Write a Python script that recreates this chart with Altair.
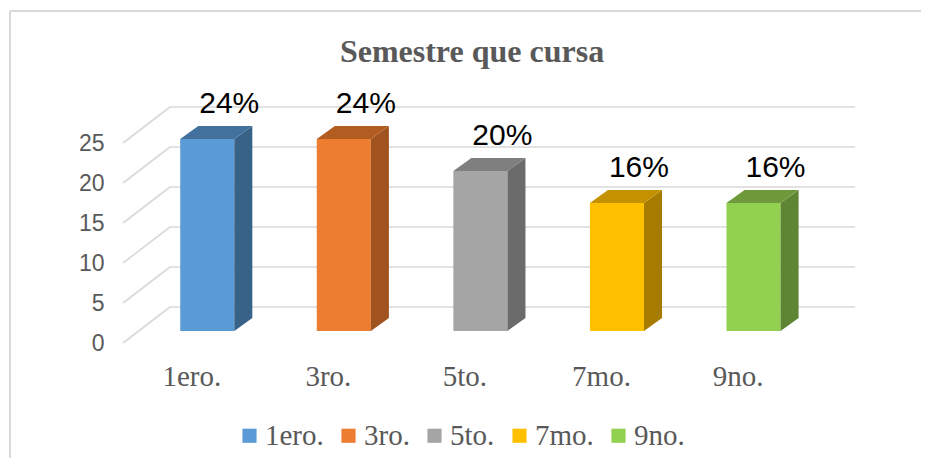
import json
import altair as alt
import pandas as pd

# ---------------- data ----------------
CATS = ["1ero.", "3ro.", "5to.", "7mo.", "9no."]
VALUES = [24, 24, 20, 16, 16]
LABELS = ["24%", "24%", "20%", "16%", "16%"]
TICKS = [0, 5, 10, 15, 20, 25]
TITLE = "Semestre que cursa"

# ---------------- style ----------------
FRONT = ["#5B9BD5", "#ED7D31", "#A5A5A5", "#FFC000", "#92D050"]
TOP = ["#41719C", "#B35C22", "#7F7F7F", "#C49200", "#6E9A3C"]
SIDE = ["#386288", "#A0521F", "#6B6B6B", "#A67C00", "#5E8532"]
GRID = "#D9D9D9"
TXT = "#595959"

# 3-D geometry, in axis units
BAR_SHIFT_X = 0.117
BAR_HALF = 0.198
BAR_LIFT = 1.5
DEPTH_X = 0.132
DEPTH_Y = 1.625
WALL_X = 0.344
WALL_Y = 4.5
X_MIN, X_MAX = -0.5, 4.86
Y_MAX = 29.5
LABEL_SHIFT_X = 0.161

# ---------------- tables ----------------
front_rows, side_rows, top_rows, lab_rows = [], [], [], []
for i, (c, v, lab) in enumerate(zip(CATS, VALUES, LABELS)):
    xl = i + BAR_SHIFT_X - BAR_HALF
    xr = i + BAR_SHIFT_X + BAR_HALF
    front_rows.append(dict(cat=c, xl=xl, xr=xr, y0=BAR_LIFT, y1=v + BAR_LIFT))
    side_rows.append(dict(cat=c, col=SIDE[i], x=xr, lo=BAR_LIFT, hi=v + BAR_LIFT))
    side_rows.append(dict(cat=c, col=SIDE[i], x=xr + DEPTH_X,
                          lo=BAR_LIFT + DEPTH_Y, hi=v + BAR_LIFT + DEPTH_Y))
    top_rows.append(dict(cat=c, col=TOP[i], y=v + BAR_LIFT, xa=xl, xb=xr))
    top_rows.append(dict(cat=c, col=TOP[i], y=v + BAR_LIFT + DEPTH_Y,
                         xa=xl + DEPTH_X, xb=xr + DEPTH_X))
    lab_rows.append(dict(cat=c, lab=lab, x=i + BAR_SHIFT_X + LABEL_SHIFT_X,
                         y=v + BAR_LIFT + DEPTH_Y))

grid_rows = []
for t in TICKS:
    grid_rows.append(dict(x=X_MIN + WALL_X, x2=X_MAX, y=t + WALL_Y, y2=t + WALL_Y))
    grid_rows.append(dict(x=X_MIN, x2=X_MIN + WALL_X, y=t, y2=t + WALL_Y))

front_df = pd.DataFrame(front_rows)
side_df = pd.DataFrame(side_rows)
top_df = pd.DataFrame(top_rows)
lab_df = pd.DataFrame(lab_rows)
grid_df = pd.DataFrame(grid_rows)

xs = alt.Scale(domain=[X_MIN, X_MAX], nice=False, zero=False)
ys = alt.Scale(domain=[0, Y_MAX], nice=False, zero=False)

X_AXIS = alt.Axis(values=list(range(len(CATS))),
                  labelExpr=f"{json.dumps(CATS)}[datum.value]",
                  grid=False, domain=False, ticks=False, tickSize=0,
                  labelFont="Liberation Serif", labelFontSize=29,
                  labelColor=TXT, labelPadding=19, title=None)
Y_AXIS = alt.Axis(values=TICKS, grid=False, domain=False, ticks=False,
                  tickSize=0, labelFont="Liberation Sans", labelFontSize=23,
                  labelColor=TXT, labelPadding=19, title=None)


def X(f):
    return alt.X(f, type="quantitative", scale=xs, axis=X_AXIS)


def Y(f):
    return alt.Y(f, type="quantitative", scale=ys, axis=Y_AXIS)


grid = alt.Chart(grid_df).mark_rule(color=GRID, strokeWidth=1.6).encode(
    x=X("x"), x2="x2", y=Y("y"), y2="y2")

front = alt.Chart(front_df).mark_rect().encode(
    x=X("xl"), x2="xr", y=Y("y0"), y2="y1",
    color=alt.Color("cat:N", scale=alt.Scale(domain=CATS, range=FRONT),
                    legend=alt.Legend(orient="none", legendX=112, legendY=314,
                                      direction="horizontal", title=None,
                                      symbolType="square", symbolSize=200,
                                      symbolStrokeWidth=0,
                                      labelFont="Liberation Serif",
                                      labelFontSize=29, labelColor=TXT,
                                      labelOffset=1, columnPadding=10,
                                      labelLimit=300)))

side = alt.Chart(side_df).mark_area(orient="vertical").encode(
    x=X("x"), y=Y("hi"), y2="lo", detail="cat:N",
    color=alt.Color("col:N", scale=None))

top = alt.Chart(top_df).mark_area(orient="horizontal").encode(
    y=Y("y"), x=X("xa"), x2="xb", detail="cat:N",
    color=alt.Color("col:N", scale=None))

labels = alt.Chart(lab_df).mark_text(font="Liberation Sans", fontSize=30,
                                      color="black", baseline="middle",
                                      yOffset=-22).encode(
    x=X("x"), y=Y("y"), text="lab:N")

frame = alt.Chart(pd.DataFrame({"k": [0]})).mark_rule(
    color=GRID, strokeWidth=2).encode(
    x=alt.value(-113), x2=alt.value(800), y=alt.value(-96), y2=alt.value(-96))
frame2 = alt.Chart(pd.DataFrame({"k": [0]})).mark_rule(
    color=GRID, strokeWidth=2).encode(
    x=alt.value(-113), x2=alt.value(-113), y=alt.value(-96), y2=alt.value(400))

chart = alt.layer(frame, frame2, grid, front, side, top, labels).resolve_scale(
    color="independent"
).properties(
    width=732, height=236,
    background="white",
    autosize=alt.AutoSizeParams(type="none"),
    padding={"left": 115, "top": 99, "right": 66, "bottom": 115},
    title=alt.TitleParams(TITLE, font="Liberation Serif", fontSize=32,
                          fontWeight="bold", color=TXT, anchor="middle",
                          dx=-17, offset=-84, baseline="alphabetic"),
).configure_view(strokeWidth=0)

chart.save("out.html", embed_options={"renderer": "svg", "actions": False})
